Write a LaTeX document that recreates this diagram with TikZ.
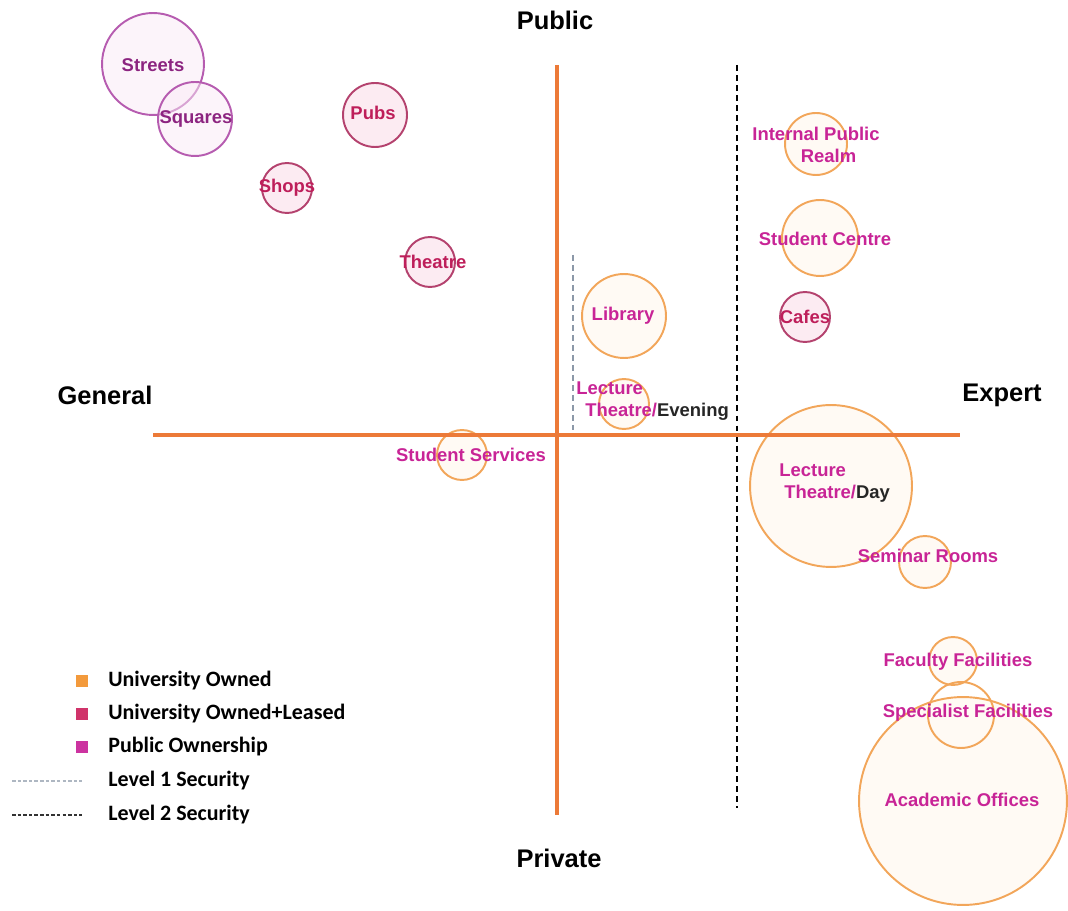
\documentclass[tikz,border=0pt]{standalone}
\usepackage{fontspec}
\setmainfont{Liberation Sans}
\newfontfamily\keyfont{Carlito}
\usepackage{tikz}
\usetikzlibrary{positioning}
\definecolor{axisorange}{RGB}{236,122,56}
\definecolor{ownedline}{RGB}{242,166,90}
\definecolor{ownedfill}{RGB}{255,246,236}
\definecolor{leasedline}{RGB}{180,66,110}
\definecolor{leasedfill}{RGB}{250,222,234}
\definecolor{publicline}{RGB}{182,92,176}
\definecolor{publicfill}{RGB}{250,234,246}
\definecolor{ownedtext}{RGB}{200,36,150}
\definecolor{leasedtext}{RGB}{190,30,90}
\definecolor{publictext}{RGB}{140,36,128}
\definecolor{ownedkey}{RGB}{243,154,60}
\definecolor{leasedkey}{RGB}{208,51,106}
\definecolor{publickey}{RGB}{204,51,160}
\definecolor{levelone}{RGB}{140,152,168}
\tikzstyle{axis} = [line width=2.8pt, axisorange]
\tikzstyle{owned} = [circle, inner sep=0pt, draw=ownedline, fill=ownedfill, fill opacity=0.6, line width=1.1pt]
\tikzstyle{leased} = [circle, inner sep=0pt, draw=leasedline, fill=leasedfill, fill opacity=0.6, line width=1.1pt]
\tikzstyle{public} = [circle, inner sep=0pt, draw=publicline, fill=publicfill, fill opacity=0.5, line width=1.1pt]
\tikzstyle{spacelabel} = [font=\fontsize{10.5}{12.5}\selectfont\bfseries, inner sep=0pt]
\tikzstyle{axislabel} = [font=\fontsize{14.5}{17}\selectfont\bfseries, inner sep=0pt]
\tikzstyle{keysq} = [rectangle, minimum size=0.24cm, inner sep=0pt]
\tikzstyle{keytext} = [font=\keyfont\fontsize{12.5}{15}\selectfont\bfseries, inner sep=0pt, anchor=west]
\tikzset{rad/.style={minimum size={#1*0.04cm}}}

\begin{document}
\begin{tikzpicture}[x=0.02cm, y=-0.02cm]
\useasboundingbox (0,0) rectangle (1068,911);
		% spaces
		\node[public, rad=51](streets) at (153,64) {};
		\node[public, rad=37](squares) at (195,119) {};
		\node[leased, rad=32](pubs) at (375,115) {};
		\node[leased, rad=25](shops) at (287,188) {};
		\node[leased, rad=25](theatre) at (430,262) {};
		\node[owned, rad=42](library) at (624,316) {};
		\node[owned, rad=25](lecteve) at (624,404) {};
		\node[owned, rad=25](services) at (462,455) {};
		\node[owned, rad=31](realm) at (816,144) {};
		\node[owned, rad=38](centre) at (820,238) {};
		\node[leased, rad=25](cafes) at (805,317) {};
		\node[owned, rad=81](lectday) at (831,486) {};
		\node[owned, rad=26](seminar) at (925,562) {};
		\node[owned, rad=24](faculty) at (953,661) {};
		\node[owned, rad=104](offices) at (963,801) {};
		\node[owned, rad=33, fill opacity=0](specialist) at (961,715) {};
		% security lines
		\coordinate (l1top) at (573,255);
		\coordinate (l1bot) at (573,430);
		\coordinate (l2top) at (737,65);
		\coordinate (l2bot) at (737,808);
		\draw[levelone, line width=1pt, dash pattern=on 3.4pt off 2.3pt] (l1top) -- (l1bot);
		\draw[black, line width=1pt, dash pattern=on 3.4pt off 2.3pt] (l2top) -- (l2bot);
		% axes
		\coordinate (ytop) at (557,65);
		\coordinate (ybot) at (557,815);
		\coordinate (xleft) at (153,435);
		\coordinate (xright) at (960,435);
		\draw[axis] (ytop) -- (ybot);
		\draw[axis] (xleft) -- (xright);
		\node[axislabel](public) at (555,20) {Public};
		\node[axislabel](private) at (559,858) {Private};
		\node[axislabel](general) at (105,395) {General};
		\node[axislabel](expert) at (1002,395) {Expert};
		% labels
		\node[spacelabel, publictext](tstreets) at (153,65) {Streets};
		\node[spacelabel, publictext](tsquares) at (196,119) {Squares};
		\node[spacelabel, leasedtext](tpubs) at (373,113) {Pubs};
		\node[spacelabel, leasedtext](tshops) at (287,188) {Shops};
		\node[spacelabel, leasedtext](ttheatre) at (433,262) {Theatre};
		\node[spacelabel, ownedtext](tlibrary) at (623,316) {Library};
		\node[spacelabel, ownedtext, align=left, anchor=west](tlecteve) at (576,401) {Lecture\\\hspace*{0.18cm}Theatre/\textcolor{black!85}{Evening}};
		\node[spacelabel, ownedtext](tservices) at (471,455) {Student Services};
		\node[spacelabel, ownedtext, align=center](trealm) at (816,145) {Internal Public\\\hspace*{0.5cm}Realm};
		\node[spacelabel, ownedtext](tcentre) at (825,239) {Student Centre};
		\node[spacelabel, leasedtext](tcafes) at (805,317) {Cafes};
		\node[spacelabel, ownedtext, align=left, anchor=west](tlectday) at (779,483) {Lecture\\\hspace*{0.1cm}Theatre/\textcolor{black!85}{Day}};
		\node[spacelabel, ownedtext](tseminar) at (928,556) {Seminar Rooms};
		\node[spacelabel, ownedtext](tfaculty) at (958,662) {Faculty Facilities};
		\node[spacelabel, ownedtext](tspecialist) at (968,713) {Specialist Facilities};
		\node[spacelabel, ownedtext](toffices) at (962,800) {Academic Offices};
		% legend
		\node[keysq, fill=ownedkey](k1) at (82,681) {};
		\node[keysq, fill=leasedkey](k2) at (82,714) {};
		\node[keysq, fill=publickey](k3) at (82,747) {};
		\coordinate (k4a) at (12,781);
		\coordinate (k4b) at (82,781);
		\coordinate (k5a) at (12,815);
		\coordinate (k5b) at (82,815);
		\draw[levelone!70, line width=0.8pt, dash pattern=on 2pt off 1.2pt] (k4a) -- (k4b);
		\draw[black!80, line width=0.8pt, dash pattern=on 2pt off 1.2pt] (k5a) -- (k5b);
		\node[keytext](t1) at (108,681) {University Owned};
		\node[keytext](t2) at (108,714) {University Owned+Leased};
		\node[keytext](t3) at (108,747) {Public Ownership};
		\node[keytext](t4) at (108,781) {Level 1 Security};
		\node[keytext](t5) at (108,815) {Level 2 Security};
\end{tikzpicture}
\end{document}
